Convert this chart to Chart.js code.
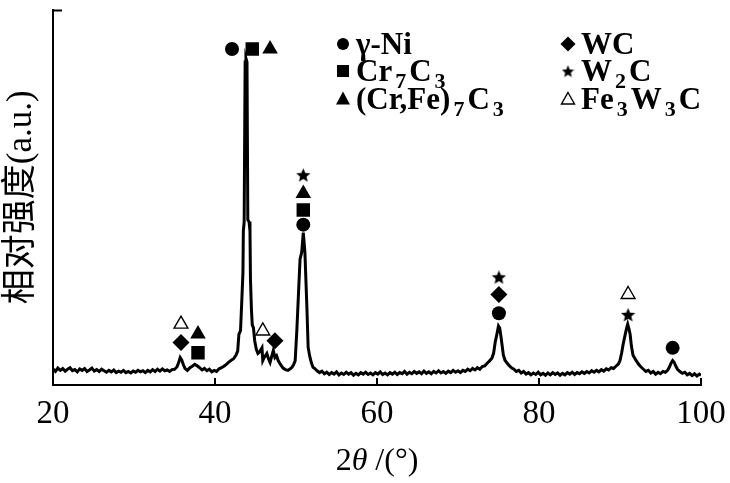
<!DOCTYPE html>
<html>
<head>
<meta charset="utf-8">
<script src="https://cdn.jsdelivr.net/npm/chart.js@4.4.1/dist/chart.umd.min.js"></script>
<style>
  html, body { margin: 0; padding: 0; background: #fff; }
  #wrap { position: relative; width: 730px; height: 483px; }
</style>
</head>
<body>
<div id="wrap"><canvas id="xrd" width="730" height="483"></canvas></div>
<script>
(function () {
  'use strict';

  // --- diffraction pattern ---
  var twoTheta = [
    20.0, 20.3, 20.6, 20.9, 21.2, 21.5, 21.8, 22.1, 22.4, 22.7,
    23.0, 23.3, 23.6, 23.9, 24.2, 24.5, 24.8, 25.1, 25.4, 25.7,
    26.0, 26.3, 26.6, 26.9, 27.2, 27.5, 27.8, 28.1, 28.4, 28.7,
    29.0, 29.3, 29.6, 29.9, 30.2, 30.5, 30.8, 31.1, 31.4, 31.7,
    32.0, 32.3, 32.6, 32.9, 33.2, 33.5, 33.8, 34.1, 34.4, 34.7,
    35.0, 35.3, 35.5, 35.7, 35.9, 36.1, 36.3, 36.6, 36.9, 37.2,
    37.5, 37.8, 38.1, 38.4, 38.7, 39.0, 39.3, 39.6, 39.9, 40.2,
    40.5, 40.8, 41.1, 41.4, 41.7, 42.0, 42.3, 42.6, 42.8, 42.95,
    43.15, 43.3, 43.45, 43.5, 43.6, 43.72, 43.82, 43.95, 44.05, 44.2,
    44.32, 44.38, 44.5, 44.6, 44.75, 44.9, 45.1, 45.3, 45.5, 45.8,
    45.9, 46.1, 46.4, 46.6, 46.8, 47.0, 47.2, 47.4, 47.6, 47.8,
    48.1, 48.4, 48.7, 49.0, 49.3, 49.5, 49.7, 49.9, 50.1, 50.3,
    50.5, 50.7, 50.9, 51.1, 51.35, 51.5, 51.7, 51.9, 52.1, 52.3,
    52.6, 52.9, 53.2, 53.5, 53.8, 54.1, 54.4, 54.7, 55.0, 55.3,
    55.6, 55.9, 56.2, 56.5, 56.8, 57.1, 57.4, 57.7, 58.0, 58.3,
    58.6, 58.9, 59.2, 59.5, 59.8, 60.1, 60.4, 60.7, 61.0, 61.3,
    61.6, 61.9, 62.2, 62.5, 62.8, 63.1, 63.4, 63.7, 64.0, 64.3,
    64.6, 64.9, 65.2, 65.5, 65.8, 66.1, 66.4, 66.7, 67.0, 67.3,
    67.6, 67.9, 68.2, 68.5, 68.8, 69.1, 69.4, 69.7, 70.0, 70.3,
    70.6, 70.9, 71.2, 71.5, 71.8, 72.1, 72.4, 72.7, 73.0, 73.3,
    73.6, 73.9, 74.2, 74.4, 74.6, 74.8, 75.0, 75.15, 75.3, 75.45,
    75.6, 75.8, 76.0, 76.3, 76.6, 76.9, 77.2, 77.5, 77.8, 78.1,
    78.4, 78.7, 79.0, 79.3, 79.6, 79.9, 80.2, 80.5, 80.8, 81.1,
    81.4, 81.7, 82.0, 82.3, 82.6, 82.9, 83.2, 83.5, 83.8, 84.1,
    84.4, 84.7, 85.0, 85.3, 85.6, 85.9, 86.2, 86.5, 86.8, 87.1,
    87.4, 87.7, 88.0, 88.3, 88.6, 88.9, 89.2, 89.5, 89.8, 90.0,
    90.2, 90.4, 90.6, 90.8, 90.95, 91.1, 91.25, 91.4, 91.6, 91.8,
    92.0, 92.3, 92.6, 92.9, 93.2, 93.5, 93.8, 94.1, 94.4, 94.7,
    95.0, 95.3, 95.6, 95.9, 96.1, 96.3, 96.5, 96.7, 96.9, 97.1,
    97.4, 97.7, 98.0, 98.3, 98.6, 98.9, 99.2, 99.5, 99.8, 100.0
  ];
  var intensity = [
    4.3, 3.6, 4.5, 3.9, 4.4, 3.7, 4.2, 4.6, 3.8, 4.1,
    3.5, 4.3, 3.9, 4.4, 3.6, 4.0, 4.5, 3.7, 4.1, 3.6,
    4.2, 3.8, 3.4, 3.9, 3.5, 4.0, 3.3, 3.7, 3.4, 3.9,
    3.3, 3.6, 3.2, 3.7, 3.4, 3.9, 3.5, 3.8, 3.3, 3.9,
    3.5, 4.1, 3.6, 4.2, 3.7, 4.3, 3.8, 4.0, 3.6, 4.1,
    4.2, 4.8, 5.9, 7.3, 6.6, 5.4, 4.4, 3.9, 4.6, 5.0,
    5.5, 5.1, 4.6, 4.0, 4.4, 3.8, 4.2, 3.5, 3.9, 3.6,
    4.3, 4.6, 5.0, 5.5, 6.1, 6.6, 7.0, 8.0, 9.0, 13.5,
    14.5, 22.0, 30.0, 41.0, 43.5, 86.0, 87.0, 86.0, 44.0, 43.5,
    41.0, 28.0, 20.0, 16.0, 15.2, 11.8, 9.5, 8.4, 8.8, 9.9,
    6.5, 7.4, 8.4, 7.0, 6.0, 7.6, 9.2, 7.3, 7.8, 6.5,
    5.4, 4.5, 4.1, 3.9, 4.3, 4.7, 5.4, 6.5, 14.4, 24.0,
    33.5, 35.3, 40.6, 35.3, 20.4, 10.0, 7.6, 5.9, 4.7, 4.4,
    3.8, 3.3, 3.7, 3.0, 3.4, 2.8, 3.3, 2.9, 3.5, 2.7,
    3.2, 2.8, 3.4, 2.9, 3.3, 2.6, 3.1, 2.7, 3.3, 2.9,
    3.4, 2.8, 3.2, 2.7, 3.3, 2.9, 3.5, 2.8, 3.2, 2.7,
    3.3, 2.9, 3.4, 2.8, 3.3, 3.0, 3.6, 2.9, 3.4, 3.0,
    3.6, 3.1, 3.5, 3.0, 3.7, 3.1, 3.5, 3.0, 3.6, 3.2,
    3.8, 3.2, 3.6, 3.1, 3.7, 3.3, 3.9, 3.4, 3.8, 3.3,
    3.9, 3.6, 4.2, 3.8, 4.4, 4.0, 4.6, 4.2, 4.9, 5.1,
    5.8, 6.4, 7.2, 8.5, 11.5, 13.5, 15.7, 15.2, 13.0, 10.5,
    8.0, 6.6, 6.0, 5.2, 4.6, 4.2, 3.6, 3.9, 3.2, 3.6,
    2.9, 3.3, 2.7, 3.2, 2.8, 3.4, 2.7, 3.1, 2.6, 3.2,
    2.7, 3.3, 2.8, 3.2, 2.6, 3.1, 2.7, 3.3, 2.9, 3.4,
    2.8, 3.3, 3.0, 3.5, 3.1, 3.6, 3.2, 3.8, 3.4, 3.9,
    3.5, 4.1, 3.7, 4.3, 4.0, 4.6, 4.4, 5.0, 5.6, 6.5,
    8.5, 11.0, 13.0, 15.0, 16.2, 15.0, 13.5, 10.5, 8.0, 7.2,
    6.5, 5.5, 4.8, 4.2, 3.6, 3.9, 3.2, 3.6, 2.9, 3.4,
    3.0, 3.6, 3.4, 4.0, 4.8, 5.8, 6.5, 6.0, 5.0, 4.2,
    3.6, 3.1, 3.4, 2.7, 3.1, 2.5, 3.0, 2.4, 2.9, 2.6
  ];

  var xTicks = [20, 40, 60, 80, 100];

  // --- phase markers above the peaks (2theta, height) ---
  var niX = [42.1, 50.9, 75.05, 96.5];
  var niY = [89.5, 42.7, 19.1, 9.9];
  var cr7c3X = [37.9, 44.6, 50.9];
  var cr7c3Y = [8.6, 89.5, 46.6];
  var crfeX = [37.9, 46.8, 50.9];
  var crfeY = [13.6, 89.5, 51.0];
  var wcX = [35.8, 47.4, 75.05];
  var wcY = [11.3, 11.8, 24.1];
  var w2cX = [50.9, 75.05, 91.0];
  var w2cY = [56.0, 28.8, 18.8];
  var fe3w3cX = [35.8, 45.9, 91.0];
  var fe3w3cY = [16.2, 14.4, 24.1];

  var SERIF = '"Liberation Serif", "Times New Roman", serif';
  var CJK = '"Liberation Serif", "Noto Sans CJK SC", serif';

  function pts(xs, ys) {
    return xs.map(function (x, i) { return { x: x, y: ys[i] }; });
  }

  function starImage(size) {
    var c = document.createElement('canvas');
    c.width = size; c.height = size;
    var g = c.getContext('2d');
    var cx = size / 2, cy = size / 2 + size * 0.06, R = size / 2, r = R * 0.45;
    g.beginPath();
    for (var i = 0; i < 10; i++) {
      var rr = (i % 2 === 0) ? R : r;
      var a = -Math.PI / 2 + i * Math.PI / 5;
      if (i === 0) g.moveTo(cx + rr * Math.cos(a), cy + rr * Math.sin(a));
      else g.lineTo(cx + rr * Math.cos(a), cy + rr * Math.sin(a));
    }
    g.closePath();
    g.fillStyle = '#000';
    g.fill();
    return c;
  }

  var STAR = starImage(15);
  var STAR_SMALL = starImage(13);

  function markerSet(xs, ys, style, radius, fill) {
    return {
      type: 'scatter',
      data: pts(xs, ys),
      pointStyle: style,
      pointRadius: radius,
      pointBackgroundColor: fill || '#000',
      pointBorderColor: '#000',
      pointBorderWidth: fill ? 1.4 : 0,
      showLine: false
    };
  }

  // legend entries: marker kind + label pieces [text, isSubscript]
  var legendItems = [
    { kind: 'circle', col: 0, row: 0, parts: [['\u03b3-Ni', 0]] },
    { kind: 'rect', col: 0, row: 1, parts: [['Cr', 0], ['7', 1], ['C', 0], ['3', 1]] },
    { kind: 'triangle', col: 0, row: 2, parts: [['(Cr,Fe)', 0], ['7', 1], ['C', 0], ['3', 1]] },
    { kind: 'diamond', col: 1, row: 0, parts: [['WC', 0]] },
    { kind: 'star', col: 1, row: 1, parts: [['W', 0], ['2', 1], ['C', 0]] },
    { kind: 'triangleOpen', col: 1, row: 2, parts: [['Fe', 0], ['3', 1], ['W', 0], ['3', 1], ['C', 0]] }
  ];

  function drawMarker(ctx, kind, x, y) {
    ctx.save();
    ctx.fillStyle = '#000';
    ctx.strokeStyle = '#000';
    ctx.beginPath();
    if (kind === 'circle') {
      ctx.arc(x, y, 6, 0, Math.PI * 2);
      ctx.fill();
    } else if (kind === 'rect') {
      ctx.fillRect(x - 6, y - 6, 12, 12);
    } else if (kind === 'triangle') {
      ctx.moveTo(x, y - 7.5); ctx.lineTo(x + 7, y + 5.5); ctx.lineTo(x - 7, y + 5.5);
      ctx.closePath(); ctx.fill();
    } else if (kind === 'diamond') {
      ctx.moveTo(x, y - 7.5); ctx.lineTo(x + 7.5, y); ctx.lineTo(x, y + 7.5); ctx.lineTo(x - 7.5, y);
      ctx.closePath(); ctx.fill();
    } else if (kind === 'star') {
      ctx.drawImage(STAR_SMALL, x - 6.5, y - 6.5);
    } else if (kind === 'triangleOpen') {
      ctx.lineWidth = 1.4;
      ctx.moveTo(x, y - 6.5); ctx.lineTo(x + 6.5, y + 5); ctx.lineTo(x - 6.5, y + 5);
      ctx.closePath(); ctx.stroke();
    }
    ctx.restore();
  }

  var decorPlugin = {
    id: 'decor',
    afterDraw: function (chart) {
      var ctx = chart.ctx;
      var area = chart.chartArea;
      var xs = chart.scales.x;
      ctx.save();
      ctx.strokeStyle = '#000';
      ctx.lineWidth = 2;
      // inward x ticks
      ctx.beginPath();
      xTicks.forEach(function (v) {
        if (v === 20) return;
        var px = Math.round(xs.getPixelForValue(v));
        ctx.moveTo(px, area.bottom);
        ctx.lineTo(px, area.bottom - 7);
      });
      // top tick of the intensity axis
      ctx.moveTo(area.left, area.top + 1);
      ctx.lineTo(area.left + 9, area.top + 1);
      ctx.stroke();

      // legend
      var colX = [343, 568];
      var rowY = [44, 71, 99];
      ctx.fillStyle = '#000';
      ctx.textBaseline = 'alphabetic';
      legendItems.forEach(function (it) {
        var mx = colX[it.col], my = rowY[it.row];
        drawMarker(ctx, it.kind, mx, my);
        var tx = mx + 13;
        var base = my + 10;
        it.parts.forEach(function (p) {
          if (p[1]) {
            ctx.font = 'bold 22px ' + SERIF;
            tx += 3;
            ctx.fillText(p[0], tx, base + 7);
            tx += ctx.measureText(p[0]).width + 3;
          } else {
            ctx.font = 'bold 31px ' + SERIF;
            ctx.fillText(p[0], tx, base);
            tx += ctx.measureText(p[0]).width;
          }
        });
      });

      // x title: 2θ /(°)
      var parts = [['2', 'normal'], ['\u03b8', 'italic'], [' /(\u00b0)', 'normal']];
      var total = 0;
      parts.forEach(function (p) {
        ctx.font = p[1] + ' 32px ' + SERIF;
        total += ctx.measureText(p[0]).width;
      });
      var x0 = (area.left + area.right) / 2 - total / 2;
      ctx.textBaseline = 'middle';
      parts.forEach(function (p) {
        ctx.font = p[1] + ' 32px ' + SERIF;
        ctx.fillText(p[0], x0, 462);
        x0 += ctx.measureText(p[0]).width;
      });
      ctx.restore();
    }
  };

  var datasets = [
    {
      type: 'line',
      data: pts(twoTheta, intensity),
      borderColor: '#000',
      borderWidth: 3,
      borderJoinStyle: 'miter',
      pointRadius: 0,
      tension: 0,
      fill: false
    },
    markerSet(niX, niY, 'circle', 7),
    markerSet(cr7c3X, cr7c3Y, 'rect', 9.5),
    markerSet(crfeX, crfeY, 'triangle', 9),
    markerSet(wcX, wcY, 'rectRot', 8.5),
    markerSet(w2cX, w2cY, STAR, 7.5),
    markerSet(fe3w3cX, fe3w3cY, 'triangle', 8, '#fff')
  ];

  new Chart(document.getElementById('xrd'), {
    type: 'scatter',
    data: { datasets: datasets },
    plugins: [decorPlugin],
    options: {
      responsive: false,
      devicePixelRatio: 1,
      animation: false,
      events: [],
      layout: { padding: { top: 3, right: 29, left: 0, bottom: 0 } },
      plugins: { legend: { display: false }, tooltip: { enabled: false } },
      scales: {
        x: {
          type: 'linear',
          min: 20,
          max: 100,
          afterBuildTicks: function (s) { s.ticks = xTicks.map(function (v) { return { value: v }; }); },
          afterFit: function (s) { s.height = 98; s.paddingLeft = 0; s.paddingRight = 0; },
          ticks: { color: '#000', padding: 10, font: { family: SERIF, size: 33 }, maxRotation: 0 },
          grid: { drawOnChartArea: false, drawTicks: false },
          border: { color: '#000', width: 2 }
        },
        y: {
          min: 0,
          max: 100,
          afterFit: function (s) { s.width = 53; },
          ticks: { display: false },
          grid: { drawOnChartArea: false, drawTicks: false },
          border: { color: '#000', width: 2 },
          title: {
            display: true,
            text: '\u76f8\u5bf9\u5f3a\u5ea6(a.u.)',
            color: '#000',
            font: { family: CJK, size: 35 },
            padding: { top: 1, bottom: 0 }
          }
        }
      }
    }
  });
})();
</script>
</body>
</html>
